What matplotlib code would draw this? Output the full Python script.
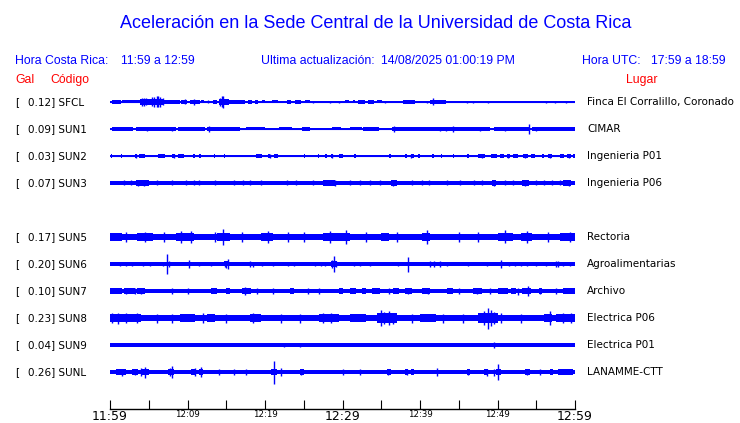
import matplotlib
matplotlib.use("Agg")
import matplotlib.pyplot as plt

# ---------------- data ----------------
codes = ["SFCL", "SUN1", "SUN2", "SUN3", "SUN5", "SUN6", "SUN7", "SUN8", "SUN9", "SUNL"]
gals = [0.12, 0.09, 0.03, 0.07, 0.17, 0.20, 0.10, 0.23, 0.04, 0.26]
places = ["Finca El Corralillo, Coronado", "CIMAR", "Ingenieria P01", "Ingenieria P06",
          "Rectoria", "Agroalimentarias", "Archivo", "Electrica P06", "Electrica P01", "LANAMME-CTT"]
slots = [0, 1, 2, 3, 5, 6, 7, 8, 9, 10]

time_ticks = list(range(0, 61, 5))
time_labels = {0: "11:59", 10: "12:09", 20: "12:19", 30: "12:29", 40: "12:39", 50: "12:49", 60: "12:59"}
big_labels = [0, 30, 60]

# constant background band half-height of each trace (px)
band = [0.5, 0.6, 0.5, 1.8, 3.2, 1.6, 2.0, 3.2, 1.6, 1.7]

# thicker segments (start minute, end minute, half-height px)
segs = [
    [(0.3, 1.4, 1.6), (1.5, 3.9, 1.5), (3.9, 7.0, 3.0), (7.0, 9.0, 1.8), (9.2, 9.9, 2.2), (10.3, 11.6, 1.8),
     (11.8, 12.1, 1.5), (13.3, 13.8, 1.6), (14.0, 15.3, 3.0), (15.3, 17.4, 1.6), (17.8, 18.3, 1.6),
     (18.7, 19.1, 1.6), (19.6, 20.0, 1.5), (20.9, 21.7, 1.5), (22.8, 23.4, 1.6), (23.9, 24.7, 1.6),
     (25.2, 25.8, 1.5), (30.3, 30.8, 1.5), (31.4, 31.6, 1.5), (32.0, 32.9, 1.6), (33.3, 34.0, 1.6),
     (34.4, 35.1, 1.5), (37.8, 39.4, 1.6), (41.3, 42.4, 2.2), (42.4, 43.4, 1.6), (44.9, 45.4, 1.3)],
    [(0.2, 3.0, 1.6), (3.3, 8.5, 1.6), (8.8, 12.2, 1.6), (12.5, 16.8, 1.6), (17.5, 20.0, 1.5),
     (20.5, 21.3, 1.4), (21.8, 23.5, 1.5), (24.8, 25.8, 1.6), (27.8, 28.3, 1.4), (28.7, 29.8, 1.5),
     (31.0, 32.5, 1.5), (32.7, 34.7, 1.6), (35.2, 35.5, 1.4), (36.4, 37.2, 1.9), (37.2, 42.0, 1.7),
     (42.0, 45.0, 1.8), (45.0, 49.0, 1.7), (49.5, 54.0, 2.0), (54.5, 60.0, 2.0)],
    [(0.1, 0.3, 1.6), (1.4, 1.6, 1.6), (3.2, 3.5, 1.6), (3.8, 4.5, 1.6), (6.2, 7.1, 1.6), (8.0, 8.4, 1.6),
     (8.8, 9.5, 1.6), (10.7, 11.0, 1.6), (11.5, 11.7, 1.6), (13.4, 13.6, 1.6), (14.7, 14.9, 1.6),
     (18.9, 19.6, 1.6), (20.4, 20.7, 1.6), (21.2, 21.7, 1.6), (25.0, 25.2, 1.6), (26.8, 27.0, 1.6),
     (27.7, 28.0, 1.6), (28.5, 28.8, 1.6), (29.5, 30.0, 1.6), (31.5, 31.7, 1.6), (36.0, 36.2, 1.6),
     (38.0, 38.3, 1.6), (38.8, 39.2, 1.6), (39.7, 40.0, 1.6), (41.6, 41.8, 1.6), (42.7, 42.9, 1.6),
     (44.2, 44.4, 1.6), (46.1, 46.3, 1.6), (47.5, 48.4, 1.6), (49.2, 49.9, 1.6), (50.3, 50.8, 1.6),
     (51.2, 51.6, 1.6), (52.0, 52.7, 1.6), (53.3, 53.9, 1.6), (54.3, 54.8, 1.6), (55.7, 56.0, 1.6),
     (56.5, 57.0, 1.6), (58.0, 58.6, 1.6), (59.0, 59.5, 1.6), (59.7, 60.0, 1.6)],
    [(0.0, 1.2, 2.4), (3.3, 5.0, 2.8), (6.5, 7.5, 2.4), (8.5, 9.0, 2.4), (12.0, 12.5, 2.4), (14.5, 15.0, 2.4),
     (20.5, 21.5, 2.4), (27.5, 29.0, 2.6), (36.2, 37.0, 2.6), (38.0, 38.5, 2.4), (49.3, 49.8, 2.8),
     (53.2, 54.0, 2.8), (58.5, 59.5, 2.8)],
    [(0.0, 1.5, 3.8), (3.5, 5.5, 4.0), (8.5, 10.8, 4.0), (13.8, 15.5, 4.0), (19.5, 21.0, 3.9),
     (27.5, 31.0, 4.0), (35.0, 36.0, 3.8), (40.3, 41.3, 4.2), (50.0, 52.0, 3.9), (53.0, 54.5, 4.0),
     (58.0, 60.0, 4.0)],
    [(14.7, 15.3, 2.5), (18.0, 18.6, 2.3), (28.5, 29.3, 2.8), (41.2, 42.8, 2.3), (57.3, 58.0, 2.3)],
    [(0.0, 1.5, 2.7), (1.8, 3.2, 2.7), (3.5, 4.5, 2.7), (13.0, 13.8, 2.7), (15.0, 15.5, 2.7), (17.0, 18.2, 2.7),
     (23.2, 23.8, 2.7), (29.5, 30.0, 2.7), (31.0, 31.8, 2.7), (32.5, 33.0, 2.7), (33.8, 34.8, 2.7),
     (36.5, 37.3, 2.7), (38.0, 39.0, 2.7), (40.3, 41.3, 2.7), (43.5, 44.3, 2.7), (46.8, 48.0, 2.7),
     (50.0, 51.3, 2.7), (51.8, 52.4, 2.7), (53.2, 54.3, 2.7), (55.3, 55.8, 2.7), (58.5, 60.0, 2.7)],
    [(0.0, 2.4, 4.3), (2.4, 4.0, 3.8), (9.0, 11.0, 3.8), (12.5, 13.5, 3.8), (18.0, 19.5, 3.9),
     (27.0, 29.5, 4.0), (31.0, 33.0, 3.8), (34.5, 37.0, 4.7), (40.0, 42.0, 3.8), (47.5, 50.0, 5.2),
     (56.0, 57.0, 4.0), (57.5, 60.0, 4.4)],
    [],
    [(0.8, 2.0, 2.7), (2.8, 3.6, 2.7), (4.0, 5.0, 2.7), (7.5, 8.3, 2.7), (10.5, 11.0, 2.7), (11.5, 12.0, 2.7),
     (20.8, 21.6, 2.7), (24.5, 25.0, 2.7), (35.7, 36.2, 2.7), (38.0, 38.5, 2.7), (38.8, 39.2, 2.7),
     (46.0, 46.4, 2.7), (48.3, 48.8, 2.7), (49.8, 50.5, 2.7), (53.5, 54.2, 2.7), (56.8, 57.2, 2.7),
     (57.8, 59.8, 2.7)],
]

# individual spikes (minute, half-height px)
spikes = [
    [(4.1, 4.0), (4.4, 4.0), (4.7, 3.5), (5.4, 4.5), (5.7, 5.0), (6.0, 5.5), (6.2, 5.5), (6.5, 5.0), (6.8, 3.5),
     (9.7, 2.5), (10.8, 3.0), (12.7, 1.5), (14.2, 4.0), (14.4, 5.5), (14.6, 6.0), (26.2, 1.3), (28.4, 1.3),
     (29.5, 1.3), (35.5, 1.3), (40.9, 1.3), (41.7, 3.5), (46.0, 1.3), (46.8, 1.3), (48.8, 1.2), (56.3, 1.2),
     (57.4, 1.2), (58.8, 1.3)],
    [(4.8, 2.2), (8.0, 2.3), (12.8, 3.3), (36.6, 2.7), (42.6, 2.3), (43.3, 2.2), (44.3, 2.7), (47.7, 2.2),
     (51.0, 2.2), (54.0, 4.7), (55.0, 2.3)],
    [(3.3, 1.8), (8.2, 1.8), (20.6, 1.8), (28.6, 1.8), (38.9, 1.8), (48.0, 1.8), (51.4, 1.8), (53.6, 1.8),
     (56.8, 1.8), (59.2, 1.8)],
    [(3.6, 3.0), (4.4, 3.0), (29.0, 3.0), (36.5, 3.0), (49.5, 3.3), (53.5, 3.0), (59.2, 3.3), (1.8, 2.5),
     (2.7, 2.5), (6.0, 2.5), (8.0, 2.5), (9.8, 2.5), (10.8, 2.5), (11.5, 2.5), (13.5, 2.5), (16.0, 2.5),
     (17.2, 2.5), (18.0, 2.5), (19.5, 2.5), (22.8, 2.5), (24.0, 2.5), (26.2, 2.5), (31.0, 2.5), (32.2, 2.5),
     (33.5, 2.5), (34.8, 2.5), (39.0, 2.5), (40.2, 2.5), (41.2, 2.5), (43.5, 2.5), (45.2, 2.5), (47.0, 2.5),
     (48.0, 2.5), (51.0, 2.5), (52.0, 2.5), (55.0, 2.5), (56.0, 2.5), (57.0, 2.5), (58.0, 2.5)],
    [(4.5, 5.0), (9.2, 6.0), (10.5, 6.0), (14.6, 7.7), (13.5, 4.8), (20.4, 6.0), (25.0, 4.8), (28.4, 6.0),
     (30.5, 7.0), (33.0, 4.8), (40.9, 7.0), (45.0, 4.8), (51.0, 6.5), (53.8, 6.0), (56.5, 4.8), (59.4, 4.8),
     (2.0, 4.8), (7.0, 4.8), (17.0, 4.8), (23.0, 4.8), (37.0, 4.8), (47.5, 4.8)],
    [(7.4, 9.5), (7.6, 3.0), (10.2, 4.0), (15.0, 3.5), (15.2, 5.0), (14.9, 3.0), (18.1, 3.0), (18.5, 2.5),
     (28.9, 8.0), (28.6, 4.0), (29.2, 3.0), (38.5, 7.5), (41.3, 2.8), (41.8, 2.8), (42.6, 2.8), (50.5, 4.0),
     (57.8, 3.0), (57.5, 2.8), (1.3, 2.3), (2.0, 2.3), (2.8, 2.3), (4.2, 2.3), (5.2, 2.3), (6.9, 2.3),
     (11.5, 2.3), (13.0, 2.3), (19.6, 2.3), (21.0, 2.3), (23.0, 2.3), (23.8, 2.3), (26.5, 2.3), (27.2, 2.3),
     (27.7, 2.3), (31.5, 2.3), (32.2, 2.3), (33.5, 2.3), (37.2, 2.3), (43.5, 2.3), (46.2, 2.3), (48.6, 2.3),
     (51.5, 2.3), (52.2, 2.3), (53.0, 2.3), (53.8, 2.3), (55.0, 2.3), (56.3, 2.3), (58.5, 2.3), (59.3, 2.3)],
    [(2.0, 3.2), (3.2, 3.2), (17.4, 4.0), (38.5, 3.2), (47.3, 3.2), (52.7, 3.5), (53.9, 4.8), (55.5, 3.2),
     (41.0, 3.2), (4.0, 3.0), (8.0, 3.0), (10.0, 3.0), (19.0, 3.0), (21.0, 3.0), (25.5, 3.0), (27.0, 3.0),
     (36.0, 3.0), (45.0, 3.0), (49.0, 3.0), (57.5, 3.0)],
    [(0.3, 5.0), (1.0, 5.5), (2.0, 4.8), (3.5, 4.8), (12.0, 4.8), (18.5, 4.8), (27.5, 4.8), (28.5, 4.8),
     (35.0, 8.0), (35.3, 6.0), (36.0, 7.0), (36.5, 5.5), (48.2, 7.0), (48.8, 10.5), (49.2, 8.0), (49.6, 6.0),
     (50.5, 4.8), (56.8, 7.0), (58.5, 5.0), (59.5, 5.0), (6.0, 4.5), (8.0, 4.5), (15.0, 4.5), (22.0, 4.5),
     (24.5, 4.5), (39.0, 4.5), (43.0, 4.5), (45.5, 4.5), (53.0, 4.5)],
    [(49.6, 2.7), (22.5, 2.0), (24.5, 2.0)],
    [(21.1, 11.5), (50.0, 8.3), (8.0, 6.0), (4.5, 5.5), (11.8, 5.0), (1.5, 3.5), (3.2, 3.2), (4.0, 4.0),
     (7.7, 4.0), (11.0, 4.0), (22.0, 4.0), (24.7, 3.2), (32.3, 3.2), (42.2, 4.0), (48.6, 3.5), (46.2, 2.8),
     (53.8, 2.8), (49.6, 3.5), (35.9, 2.8), (38.3, 2.8), (14.0, 2.8), (16.0, 2.8), (17.5, 2.8), (30.0, 2.8),
     (55.5, 2.8)],
]

# ---------------- layout ----------------
W, H = 740, 423
fig = plt.figure(figsize=(W / 100, H / 100), dpi=100)
fig.patch.set_facecolor("white")
BLUE = "#0000ff"
RED = "#ff0000"


def fx(x):
    return x / W


def fy(y):
    return 1 - y / H


hdr = "Liberation Sans"
fig.text(fx(376), fy(23), "Aceleración en la Sede Central de la Universidad de Costa Rica",
         ha="center", va="center", color=BLUE, fontsize=13, family=hdr)
fig.text(fx(15), fy(61), "Hora Costa Rica:", ha="left", va="center", color=BLUE, fontsize=8.8, family=hdr)
fig.text(fx(121), fy(61), "11:59 a 12:59", ha="left", va="center", color=BLUE, fontsize=8.8, family=hdr)
fig.text(fx(261), fy(61), "Ultima actualización:", ha="left", va="center", color=BLUE, fontsize=8.8, family=hdr)
fig.text(fx(381), fy(61), "14/08/2025 01:00:19 PM", ha="left", va="center", color=BLUE, fontsize=8.8, family=hdr)
fig.text(fx(582), fy(61), "Hora UTC:", ha="left", va="center", color=BLUE, fontsize=8.8, family=hdr)
fig.text(fx(651), fy(61), "17:59 a 18:59", ha="left", va="center", color=BLUE, fontsize=8.8, family=hdr)
fig.text(fx(15), fy(80), "Gal", ha="left", va="center", color=RED, fontsize=8.8, family=hdr)
fig.text(fx(50), fy(80), "Código", ha="left", va="center", color=RED, fontsize=8.8, family=hdr)
fig.text(fx(626), fy(80), "Lugar", ha="left", va="center", color=RED, fontsize=8.8, family=hdr)

# traces axes: y data in px, top at 88
top, bot = 88, 388
ax = fig.add_axes([fx(110), fy(bot), fx(575) - fx(110), fy(top) - fy(bot)])
ax.set_xlim(0, 60)
ax.set_ylim(bot - top, 0)
ax.axis("off")

lab = "DejaVu Sans"
for i, code in enumerate(codes):
    y0 = 14 + 27 * slots[i]
    ax.fill_between([0, 60], y0 - band[i], y0 + band[i], color=BLUE, lw=0)
    ax.plot([0, 60], [y0, y0], color=BLUE, lw=0.8)
    for (t0, t1, h) in segs[i]:
        ax.fill_between([t0, t1], y0 - h, y0 + h, color=BLUE, lw=0)
    if spikes[i]:
        ts = [s[0] for s in spikes[i]]
        hs = [s[1] for s in spikes[i]]
        ax.vlines(ts, [y0 - h for h in hs], [y0 + h for h in hs], color=BLUE, lw=1.0)
    ypix = top + y0
    fig.text(fx(15), fy(ypix), "[", ha="left", va="center", fontsize=7.5, family=lab)
    fig.text(fx(28), fy(ypix), f"{gals[i]:.2f}] {code}", ha="left", va="center", fontsize=7.5, family=lab)
    fig.text(fx(587), fy(ypix), places[i], ha="left", va="center", fontsize=7.5, family=lab)

# time axis
tax = fig.add_axes([fx(110), fy(409), fx(575) - fx(110), 12 / H])
tax.set_xlim(0, 60)
tax.set_ylim(0, 1)
for s in ["top", "left", "right"]:
    tax.spines[s].set_visible(False)
tax.spines["bottom"].set_linewidth(1.0)
tax.set_yticks([])
tax.set_xticks(time_ticks)
tax.set_xticklabels([time_labels.get(t, "") for t in time_ticks])
tax.tick_params(axis="x", direction="in", length=6.5, width=0.8, pad=0.8)
tax.patch.set_alpha(0)
for t, lbl in zip(time_ticks, tax.get_xticklabels()):
    lbl.set_family(lab)
    lbl.set_fontsize(9 if t in big_labels else 6.2)

fig.savefig("out.png", dpi=100, facecolor="white")
